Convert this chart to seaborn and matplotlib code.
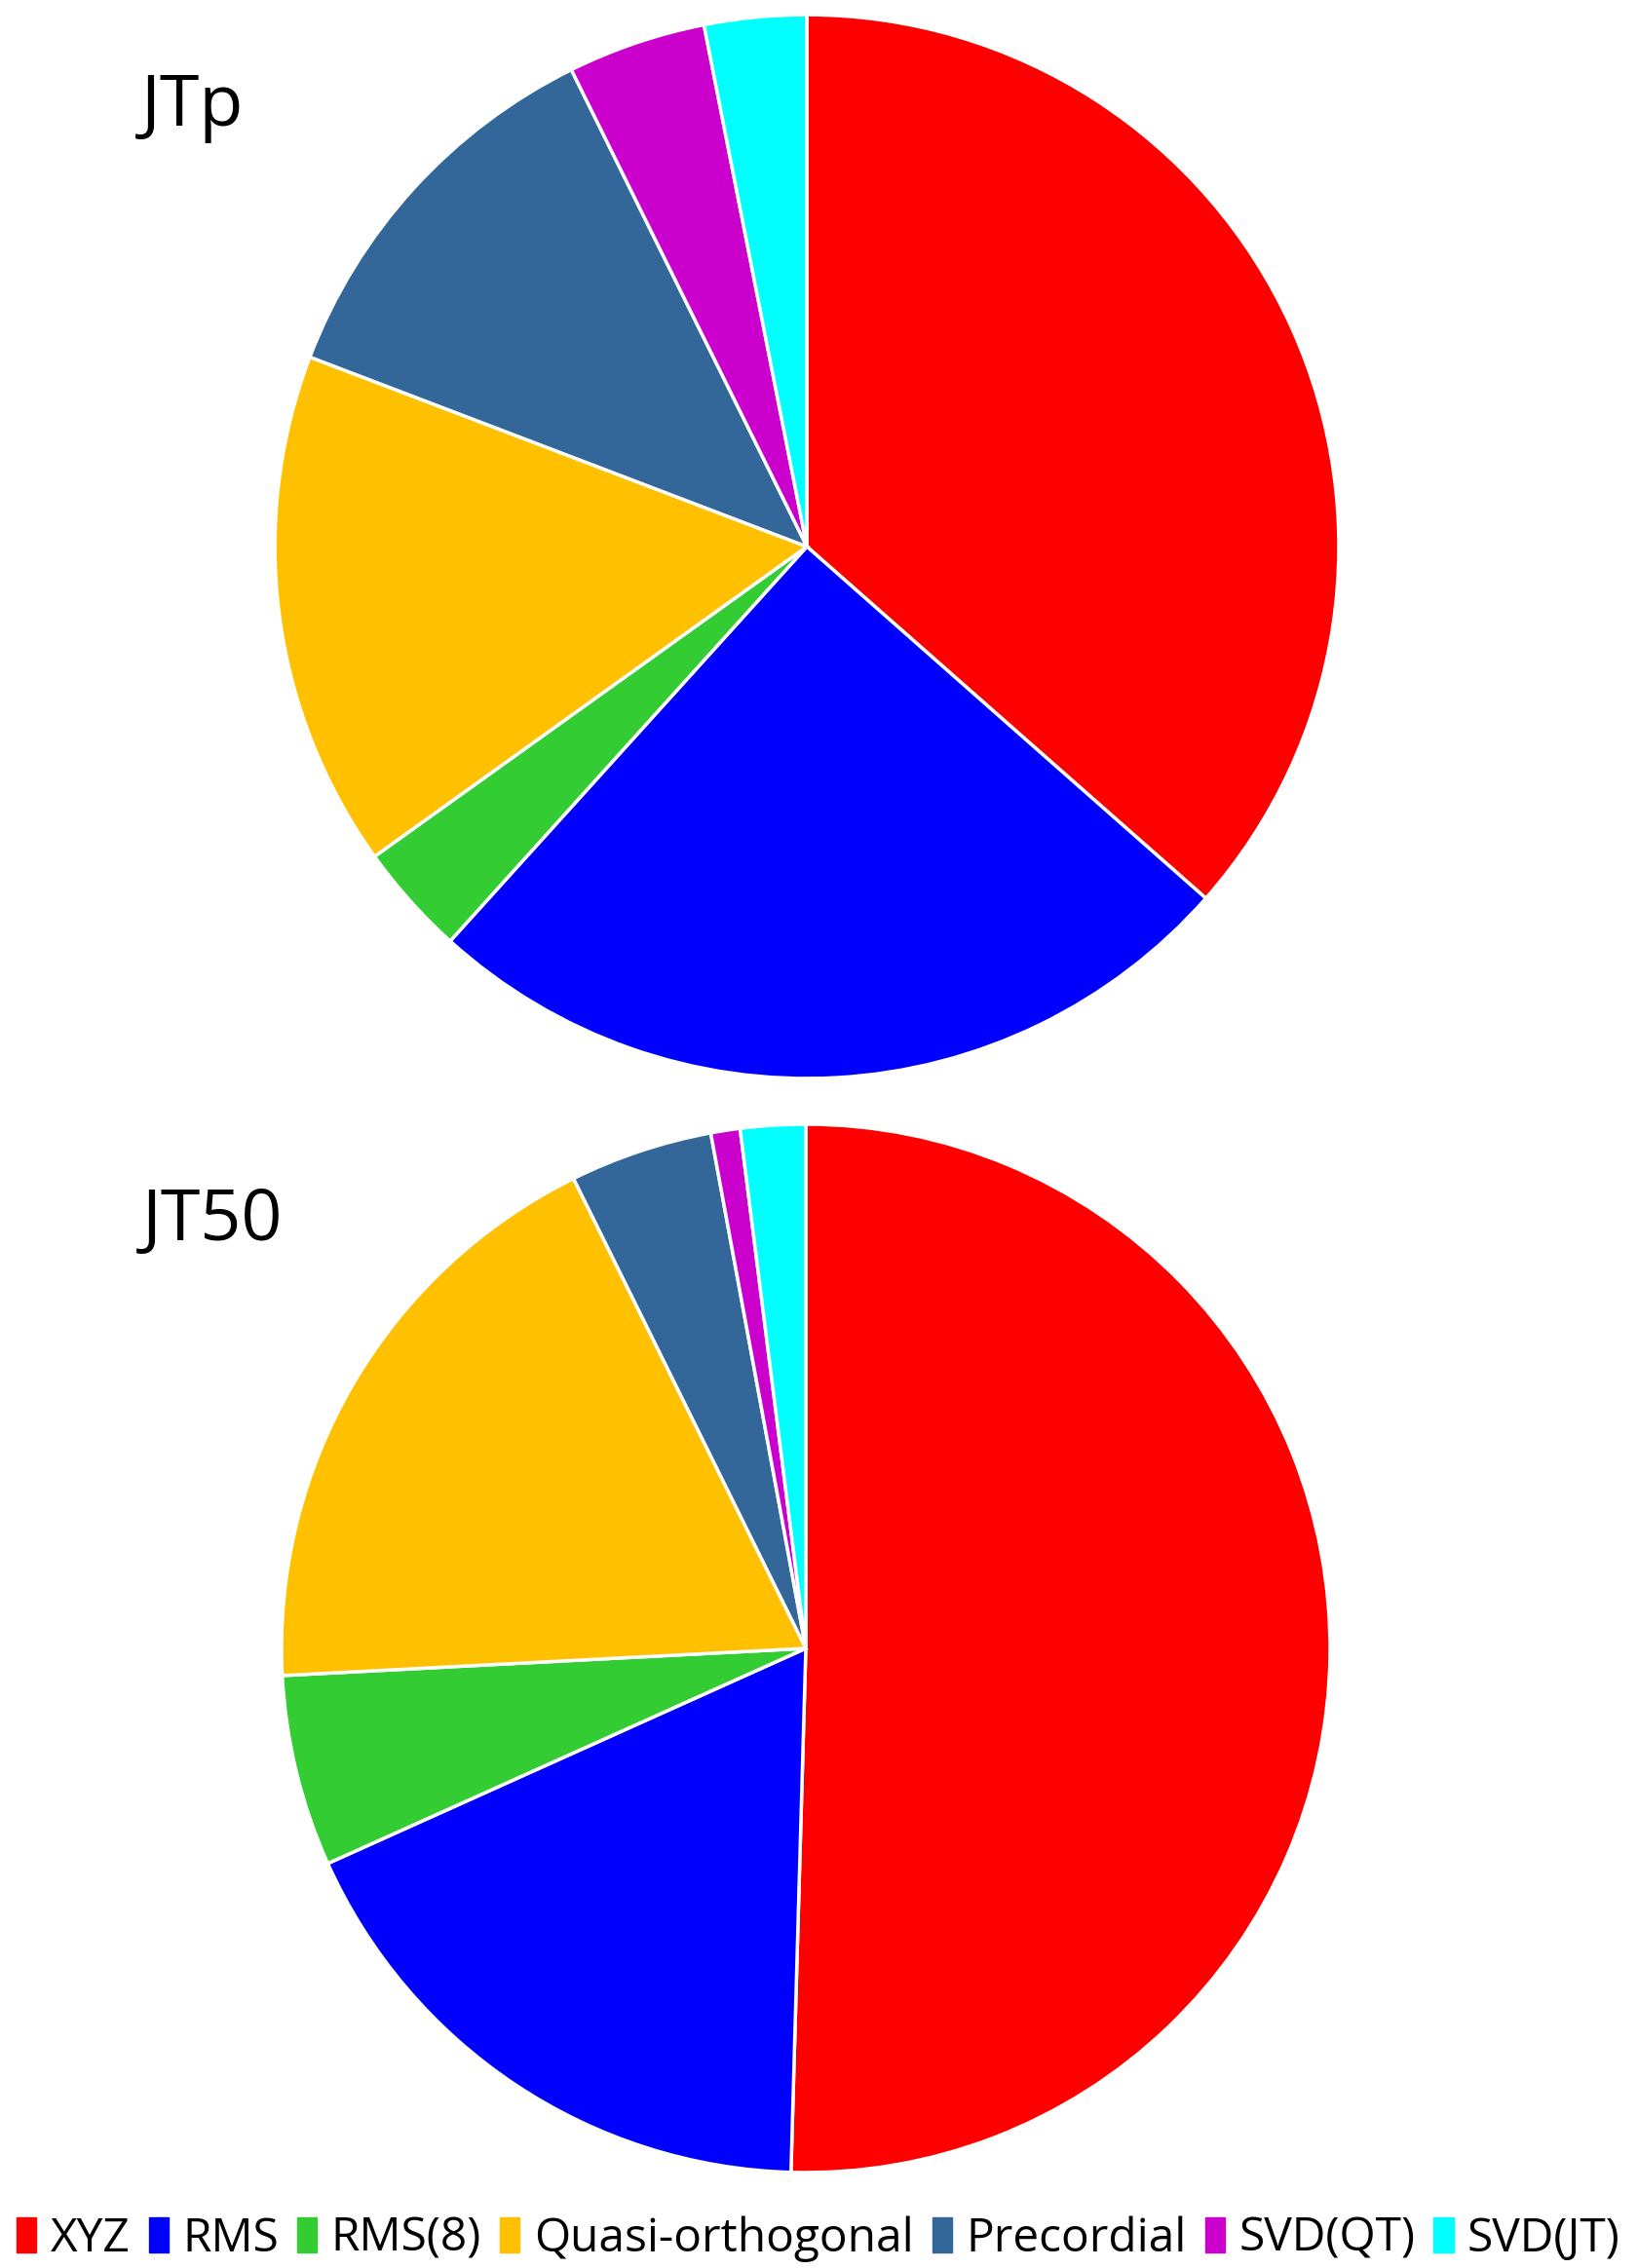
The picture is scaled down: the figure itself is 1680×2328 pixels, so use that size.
"""Two pie charts (JTp, JT50) sharing one legend along the bottom."""
import matplotlib
matplotlib.use('Agg')
import matplotlib.pyplot as plt
import matplotlib.patches as mpatches
import seaborn as sns

methods = ['XYZ', 'RMS', 'RMS(8)', 'Quasi-orthogonal', 'Precordial', 'SVD(QT)', 'SVD(JT)']
jtp_share = [36.5, 25.2, 3.4, 15.7, 11.9, 4.2, 3.1]
jt50_share = [50.4, 17.8, 5.9, 18.5, 4.4, 0.9, 2.0]
colors = ['#FF0000', '#0000FF', '#33CC33', '#FFC000', '#336699', '#CC00CC', '#00FFFF']

sns.set_theme(style='white')
plt.rcParams['font.family'] = ['Open Sans', 'DejaVu Sans']
plt.rcParams['text.color'] = 'black'
palette = sns.color_palette(colors)

fig = plt.figure(figsize=(16.8, 23.28), dpi=100)


def draw_pie(rect, values, label, label_xy):
    ax = fig.add_axes(rect)
    ax.pie(values, colors=palette, startangle=90, counterclock=False, radius=1,
           wedgeprops=dict(edgecolor='white', linewidth=2.5))
    ax.set_xlim(-1.0, 1.0)
    ax.set_ylim(-1.0, 1.0)
    ax.set_aspect('equal')
    ax.axis('off')
    fig.text(label_xy[0], label_xy[1], label, fontsize=53, color='black',
             ha='left', va='baseline')
    return ax


draw_pie([0.1679, 0.5245, 0.65, 0.469], jtp_share, 'JTp', (145 / 1680, 1 - 129 / 2328))
draw_pie([0.172, 0.0421, 0.6405, 0.4622], jt50_share, 'JT50', (146 / 1680, 1 - 1273 / 2328))

handles = [mpatches.Patch(color=c, label=m) for c, m in zip(palette, methods)]
fig.legend(handles=handles, loc='center', bbox_to_anchor=(0.5, 30 / 2328), ncol=7,
           frameon=False, fontsize=34.5, handlelength=0.42, handleheight=0.75,
           handletextpad=0.3, columnspacing=0.4, borderaxespad=0, borderpad=0,
           labelcolor='black')

fig.savefig('out.png', dpi=100)
plt.close(fig)
